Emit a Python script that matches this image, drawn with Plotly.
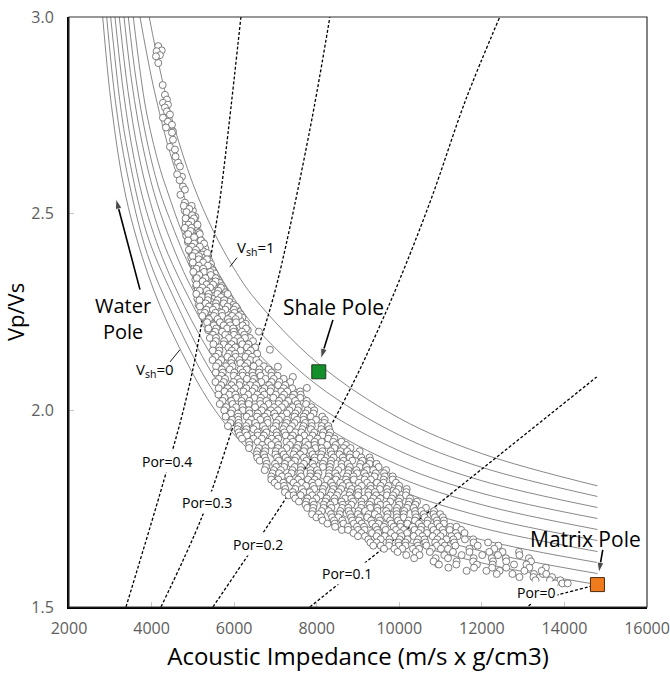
import plotly.graph_objects as go

# ---------------- axes ----------------
X_TICKS = [2000, 4000, 6000, 8000, 10000, 12000, 14000, 16000]
Y_TICKS = [1.5, 2.0, 2.5, 3.0]

# ---------------- Vsh template curves (Vsh = 0 ... 1), AI vs Vp/Vs ----------------
VSH_X = [
    [2816, 3030, 3380, 3930, 4500, 5500, 6500, 8000, 10000, 12000, 14800],
    [2913, 3130, 3400, 3900, 4500, 5500, 6500, 8000, 10000, 12000, 14800],
    [3010, 3230, 3400, 3880, 4500, 5500, 6500, 8000, 10000, 12000, 14800],
    [3114, 3330, 3580, 3870, 4430, 5500, 6500, 8000, 10000, 12000, 14800],
    [3218, 3430, 3680, 3970, 4400, 5500, 6500, 8000, 10000, 12000, 14800],
    [3332, 3530, 3780, 4060, 4380, 4920, 5500, 6500, 8000, 10000, 12000, 14800],
    [3436, 3630, 3880, 4160, 4380, 4920, 5500, 6500, 8000, 10000, 12000, 14800],
    [3557, 3730, 3880, 4160, 4370, 4880, 5500, 6500, 8000, 10000, 12000, 14800],
    [3719, 4000, 4300, 4500, 5000, 5500, 6000, 6500, 8000, 10000, 12000, 14800],
    [3944, 4200, 4500, 5000, 5500, 6000, 6500, 8000, 10000, 12000, 14800],
]
VSH_Y = [
    [3.000, 2.773, 2.542, 2.341, 2.197, 2.006, 1.885, 1.768, 1.673, 1.612, 1.557],
    [3.000, 2.781, 2.607, 2.396, 2.246, 2.048, 1.922, 1.801, 1.704, 1.642, 1.585],
    [3.000, 2.788, 2.672, 2.451, 2.295, 2.089, 1.959, 1.835, 1.735, 1.671, 1.613],
    [3.000, 2.800, 2.638, 2.509, 2.346, 2.132, 1.998, 1.869, 1.766, 1.701, 1.641],
    [3.000, 2.811, 2.654, 2.529, 2.397, 2.175, 2.036, 1.904, 1.797, 1.730, 1.669],
    [3.000, 2.827, 2.675, 2.553, 2.453, 2.321, 2.221, 2.076, 1.939, 1.829, 1.760, 1.697],
    [3.000, 2.837, 2.689, 2.570, 2.503, 2.367, 2.263, 2.114, 1.973, 1.860, 1.789, 1.725],
    [3.000, 2.856, 2.756, 2.631, 2.561, 2.419, 2.310, 2.155, 2.014, 1.897, 1.821, 1.753],
    [3.000, 2.845, 2.711, 2.636, 2.485, 2.372, 2.284, 2.213, 2.065, 1.937, 1.855, 1.781],
    [3.000, 2.867, 2.739, 2.576, 2.455, 2.360, 2.284, 2.122, 1.980, 1.890, 1.808],
]

# ---------------- constant-porosity lines ----------------
POR_LINES = {
    "0":   ([14800, 13840, 13330, 13110], [1.557, 1.531, 1.518, 1.500]),
    "0.1": ([7835, 14783], [1.500, 2.085]),
    "0.2": ([5486, 7326, 8222, 8924, 9457, 9977, 10764, 11611, 12434],
            [1.500, 1.788, 1.939, 2.078, 2.198, 2.324, 2.535, 2.790, 3.000]),
    "0.3": ([4227, 5220, 5970, 6624, 7060, 7835, 8319],
            [1.500, 1.729, 1.958, 2.172, 2.332, 2.714, 3.000]),
    "0.4": ([3380, 4373, 4833, 5172, 5462, 5656, 6164],
            [1.500, 1.849, 2.027, 2.197, 2.408, 2.536, 3.000]),
}
POR_LABELS = [("Por=0.4", 4373, 1.871), ("Por=0.3", 5341, 1.765),
              ("Por=0.2", 6576, 1.660), ("Por=0.1", 8730, 1.584),
              ("Por=0", 13330, 1.536)]

# ---------------- well-log samples ----------------
TRAIL_X = [4162, 4245, 4123, 4203, 4107, 4162, 4269, 4324, 4372, 4276, 4397, 4324,
           4372, 4445, 4276, 4397, 4494, 4348, 4518, 4494, 4518, 4445, 4566, 4639,
           4687, 4736, 4760, 4808, 4808, 4857, 4620, 4680, 4700, 4580]
TRAIL_Y = [2.926, 2.915, 2.913, 2.903, 2.900, 2.883, 2.827, 2.802, 2.790, 2.782, 2.777, 2.770,
           2.760, 2.752, 2.744, 2.734, 2.726, 2.719, 2.709, 2.706, 2.688, 2.670, 2.663, 2.630,
           2.620, 2.594, 2.569, 2.561, 2.528, 2.510, 2.600, 2.585, 2.548, 2.645]
STRAY_X = [6866, 7060, 7423, 7762, 6382, 6600, 10426, 10935, 13480]
STRAY_Y = [2.154, 2.111, 2.085, 2.057, 2.184, 2.200, 1.648, 1.609, 1.584]

# upper part of the cloud, between the main rows
UPPER_ROWS = [
    (2.516, [4860]), (2.508, [4800, 5000]), (2.500, [4900]), (2.492, [4850, 5060]),
    (2.484, [4890, 5040]), (2.476, [4830, 5000]), (2.468, [4930, 5100]),
    (2.460, [4860, 5060]), (2.452, [5000, 5150]), (2.444, [4840, 4990, 5140]),
    (2.436, [4940, 5100]), (2.428, [4880, 5080, 5230]), (2.420, [4960, 5130]),
    (2.412, [5010, 5180, 5300]), (2.404, [4930, 5110, 5260]),
    (2.396, [5070, 5220, 5360]), (2.388, [4960, 5090, 5280]),
    (2.380, [5060, 5210, 5400]), (2.372, [4990, 5150, 5300, 5440]),
    (2.364, [5040, 5200, 5420]), (2.356, [5100, 5350, 5480]),
    (2.348, [5040, 5200, 5380, 5530]), (2.340, [5150, 5280, 5480]),
    (2.332, [5060, 5210, 5400, 5610]), (2.324, [5150, 5290, 5460, 5650]),
    (2.316, [5080, 5270, 5510, 5700]), (2.308, [5120, 5260, 5460, 5740]),
    (2.300, [5200, 5480, 5700, 5790]), (2.292, [5150, 5300, 5530, 5760]),
    (2.284, [5110, 5290, 5520, 5890]), (2.276, [5200, 5430, 5660, 5880]),
    (2.268, [5140, 5280, 5470, 5720, 5980]), (2.260, [5250, 5470, 5650, 5920, 6070]),
    (2.252, [5200, 5400, 5610, 5880, 6100]), (2.244, [5330, 5460, 5830, 6160]),
    (2.236, [5260, 5450, 5690, 5900, 6200]), (2.228, [5420, 5580, 5700, 5960, 6150]),
    (2.220, [5310, 5440, 5680, 5920, 6280]), (2.212, [5430, 5650, 5880, 6120]),
    (2.204, [5370, 5610, 5760, 6010, 6330]),
]

CLOUD_ROWS = [
    (2.520, [4780, 4970]), (2.512, [4914]), (2.504, [4848]), (2.496, [4982]),
    (2.488, [4826, 5026]), (2.480, [4960]), (2.472, [4894, 5114]), (2.464, [4808, 4968]),
    (2.456, [4946]), (2.448, [4888, 5168]), (2.440, [5030]), (2.432, [4886, 5196]),
    (2.424, [5032, 5272]), (2.416, [4978, 5168]), (2.408, [4904, 5074]),
    (2.400, [5050, 5350]), (2.392, [4996, 5146]), (2.384, [5142, 5342]),
    (2.376, [4998, 5248]), (2.368, [5144, 5364]), (2.360, [5090, 5250]),
    (2.352, [5012, 5272, 5422]), (2.344, [5154, 5434]), (2.336, [5096, 5306, 5556]),
    (2.328, [5238, 5548]), (2.320, [5090, 5330, 5490]), (2.312, [5228, 5418, 5678]),
    (2.304, [5166, 5336, 5616]), (2.296, [5084, 5384, 5594, 5844]),
    (2.288, [5222, 5372, 5682]), (2.280, [5160, 5360, 5600, 5760]),
    (2.272, [5310, 5560, 5750]), (2.264, [5170, 5390, 5560, 5840, 6040]),
    (2.256, [5326, 5486, 5786, 5996]), (2.248, [5288, 5548, 5698, 6008]),
    (2.240, [5230, 5510, 5710, 5950, 6110]), (2.232, [5388, 5598, 5848, 6038]),
    (2.224, [5346, 5656, 5876, 6046]), (2.216, [5506, 5746, 5906, 6206]),
    (2.208, [5378, 5568, 5828, 5978, 6288]), (2.200, [5540, 5710, 5990, 6190]),
    (2.192, [5486, 5786, 5996, 6246]), (2.184, [5412, 5562, 5872, 6092, 6262]),
    (2.176, [5556, 5756, 5996, 6156, 6456]), (2.168, [5498, 5748, 5938, 6198, 6348]),
    (2.160, [5640, 5860, 6030, 6310, 6510]), (2.152, [5484, 5644, 5944, 6154, 6404]),
    (2.144, [5618, 5878, 6028, 6338, 6558]), (2.136, [5556, 5836, 6036, 6276, 6436]),
    (2.128, [5478, 5688, 5938, 6128, 6388, 6538]),
    (2.120, [5620, 5930, 6150, 6320, 6600]),
    (2.112, [5562, 5802, 5962, 6262, 6472, 6722]),
    (2.104, [5704, 5894, 6154, 6304, 6614, 6834]),
    (2.096, [5554, 5724, 6004, 6204, 6444, 6604, 6904]),
    (2.088, [5692, 5992, 6202, 6452, 6642, 6902, 7052]),
    (2.080, [5630, 5780, 6090, 6310, 6480, 6760, 6960, 7200]),
    (2.072, [5548, 5748, 5988, 6148, 6448, 6658, 6908, 7098, 7358]),
    (2.064, [5686, 5936, 6126, 6386, 6536, 6846, 7066, 7236]),
    (2.056, [5626, 5846, 6016, 6296, 6496, 6736, 6896, 7196, 7406]),
    (2.048, [5768, 5928, 6228, 6438, 6688, 6878, 7138, 7288, 7598]),
    (2.040, [5620, 5880, 6030, 6340, 6560, 6730, 7010, 7210, 7450, 7610]),
    (2.032, [5770, 6050, 6250, 6490, 6650, 6950, 7160, 7410, 7600]),
    (2.024, [5720, 5930, 6180, 6370, 6630, 6780, 7090, 7310, 7480, 7760]),
    (2.016, [5652, 5962, 6182, 6352, 6632, 6832, 7072, 7232, 7532, 7742]),
    (2.008, [5806, 6046, 6206, 6506, 6716, 6966, 7156, 7416, 7566, 7876]),
    (2.000, [5760, 5950, 6210, 6360, 6670, 6890, 7060, 7340, 7540, 7780, 7940]),
    (1.992, [5922, 6092, 6372, 6572, 6812, 6972, 7272, 7482, 7732, 7922]),
    (1.984, [5794, 6094, 6304, 6554, 6744, 7004, 7154, 7464, 7684, 7854, 8134]),
    (1.976, [5954, 6104, 6414, 6634, 6804, 7084, 7284, 7524, 7684, 7984, 8194]),
    (1.968, [5912, 6112, 6352, 6512, 6812, 7022, 7272, 7462, 7722, 7872, 8182]),
    (1.960, [5850, 6100, 6290, 6550, 6700, 7010, 7230, 7400, 7680, 7880, 8120, 8280]),
    (1.952, [6080, 6300, 6470, 6750, 6950, 7190, 7350, 7650, 7860, 8110, 8300]),
    (1.944, [6110, 6270, 6570, 6780, 7030, 7220, 7480, 7630, 7940, 8160, 8330]),
    (1.936, [6140, 6310, 6570, 6720, 7030, 7250, 7420, 7700, 7900, 8140, 8300]),
    (1.928, [6190, 6470, 6670, 6910, 7070, 7370, 7580, 7830, 8020, 8280, 8430]),
    (1.920, [6360, 6570, 6820, 7010, 7270, 7420, 7730, 7950, 8120, 8400, 8600]),
    (1.912, [6370, 6680, 6900, 7070, 7350, 7550, 7790, 7950, 8250, 8460, 8710]),
    (1.904, [6360, 6600, 6760, 7060, 7270, 7520, 7710, 7970, 8120, 8430, 8650, 8820]),
    (1.896, [6560, 6750, 7010, 7160, 7470, 7690, 7860, 8140, 8340, 8580, 8740, 9040]),
    (1.888, [6550, 6720, 7000, 7200, 7440, 7600, 7900, 8110, 8360, 8550, 8810, 8960]),
    (1.880, [6560, 6740, 7040, 7250, 7500, 7690, 7950, 8100, 8410, 8630, 8800, 9080, 9280]),
    (1.872, [6620, 6770, 7080, 7300, 7470, 7750, 7950, 8190, 8350, 8650, 8860, 9110, 9300]),
    (1.864, [6790, 6990, 7230, 7390, 7690, 7900, 8150, 8340, 8600, 8750, 9060, 9280, 9450]),
    (1.856, [6770, 7020, 7210, 7470, 7620, 7930, 8150, 8320, 8600, 8800, 9040, 9200, 9500]),
    (1.848, [6740, 6960, 7130, 7410, 7610, 7850, 8010, 8310, 8520, 8770, 8960, 9220, 9370, 9680]),
    (1.840, [6930, 7090, 7390, 7600, 7850, 8040, 8300, 8450, 8760, 8980, 9150, 9430, 9630]),
    (1.832, [6900, 7160, 7310, 7620, 7840, 8010, 8290, 8490, 8730, 8890, 9190, 9400, 9650, 9840]),
    (1.824, [6900, 7070, 7350, 7550, 7790, 7950, 8250, 8460, 8710, 8900, 9160, 9310, 9620, 9840]),
    (1.816, [6980, 7190, 7440, 7630, 7890, 8040, 8350, 8570, 8740, 9020, 9220, 9460, 9620, 9920]),
    (1.808, [7060, 7210, 7520, 7740, 7910, 8190, 8390, 8630, 8790, 9090, 9300, 9550, 9740, 10000]),
    (1.800, [7240, 7480, 7640, 7940, 8150, 8400, 8590, 8850, 9000, 9310, 9530, 9700, 9980, 10180]),
    (1.792, [7230, 7420, 7680, 7830, 8140, 8360, 8530, 8810, 9010, 9250, 9410, 9710, 9920, 10170]),
    (1.784, [7320, 7440, 7610, 7890, 8090, 8330, 8490, 8790, 9000, 9250, 9440, 9700, 9850, 10160]),
    (1.776, [7480, 7780, 7990, 8240, 8430, 8690, 8840, 9150, 9370, 9540, 9820, 10020, 10260]),
    (1.768, [7570, 7750, 7900, 8210, 8430, 8600, 8880, 9080, 9320, 9480, 9780, 9990, 10240, 10430]),
    (1.760, [7730, 7930, 8170, 8330, 8630, 8840, 9090, 9280, 9540, 9690, 10000, 10220, 10390]),
    (1.752, [7770, 7916, 8166, 8356, 8616, 8766, 9076, 9296, 9466, 9746, 9946, 10186, 10346, 10646]),
    (1.744, [7902, 8122, 8292, 8572, 8772, 9012, 9172, 9472, 9682, 9932, 10122, 10382, 10532, 10842]),
    (1.736, [7888, 8048, 8348, 8558, 8808, 8998, 9258, 9408, 9718, 9938, 10108, 10388, 10588, 10828, 10988]),
    (1.728, [7990, 8114, 8374, 8524, 8834, 9054, 9224, 9504, 9704, 9944, 10104, 10404, 10614, 10864, 11054]),
    (1.720, [8140, 8420, 8620, 8860, 9020, 9320, 9530, 9780, 9970, 10230, 10380, 10690, 10910, 11080]),
    (1.712, [8260, 8438, 8648, 8898, 9088, 9348, 9498, 9808, 10028, 10198, 10478, 10678, 10918, 11078]),
    (1.704, [8446, 8756, 8976, 9146, 9426, 9626, 9866, 10026, 10326, 10536, 10786, 10976, 11236, 11386]),
    (1.696, [8610, 8760, 9000, 9160, 9460, 9670, 9920, 10110, 10370, 10520, 10830, 11050, 11220, 11500]),
    (1.688, [8890, 9080, 9340, 9490, 9800, 10020, 10190, 10470, 10670, 10910, 11070, 11370, 11580]),
    (1.680, [9000, 9170, 9450, 9650, 9890, 10050, 10350, 10560, 10810, 11000, 11260, 11410]),
    (1.672, [9250, 9550, 9760, 10010, 10200, 10460, 10610, 10920, 11140, 11310, 11590, 11790]),
    (1.664, [9300, 9450, 9760, 9980, 10150, 10430, 10630, 10870, 11030, 11330, 11800, 12150]),
    (1.656, [9370, 9550, 9750, 9990, 10150, 10450, 10660, 10910, 11100, 11360, 11900, 12400]),
    (1.648, [9630, 9880, 10070, 10330, 10480, 10790, 11010, 11180, 11700, 12300]),
    (1.640, [9960, 10400, 10740, 11300, 11700, 12180, 12500, 12900]),
    (1.632, [10170, 10490, 11090, 11510, 12010, 12390, 12910]),
    (1.624, [10360, 10880, 11180, 11800, 12240, 12580, 13140]),
    (1.616, [10830, 11390, 11790, 12270, 12590, 13190]),
    (1.608, [10960, 11380, 11880, 12260, 12780, 13080]),
    (1.600, [11190, 11810, 12250, 12590, 13150, 13550]),
    (1.592, [11630, 12110, 12430, 13030, 13450]),
    (1.584, [12360, 12740, 13260, 13560]),
    (1.576, [12910, 13250, 13700]),
    (1.568, [13300, 13650, 13900]),
    (1.560, [13770, 13950, 14080]),
]

# ---------------- poles, arrows, leader lines ----------------
SHALE_POLE = (8050, 2.098)
MATRIX_POLE = (14800, 1.557)
ARROWS = [  # (tail x, tail y, head x, head y)
    (3719, 2.307, 3138, 2.538),
    (8392, 2.230, 8101, 2.131),
    (14928, 1.645, 14831, 1.587),
]
LEADERS = [
    (6068, 2.388, 5898, 2.365),
    (4445, 2.123, 4687, 2.154),
]

FONT = "Open Sans"

fig = go.Figure()

for xs, ys in zip(VSH_X, VSH_Y):
    fig.add_trace(go.Scatter(x=xs, y=ys, mode="lines", line_shape="spline",
                             line=dict(color="#7a7a7a", width=0.9),
                             hoverinfo="skip", showlegend=False))

for key, (xs, ys) in POR_LINES.items():
    fig.add_trace(go.Scatter(x=xs, y=ys, mode="lines", line_shape="spline",
                             line=dict(color="black", width=1.3, dash="3px,2px"),
                             hoverinfo="skip", showlegend=False))

cloud_x = list(TRAIL_X) + list(STRAY_X)
cloud_y = list(TRAIL_Y) + list(STRAY_Y)
for yv, xs in UPPER_ROWS + CLOUD_ROWS:
    cloud_x.extend(xs)
    cloud_y.extend([yv] * len(xs))

fig.add_trace(go.Scatter(x=cloud_x, y=cloud_y, mode="markers",
                         marker=dict(symbol="circle", size=7, color="white",
                                     line=dict(color="#6e6e6e", width=0.9)),
                         hoverinfo="skip", showlegend=False))

fig.add_trace(go.Scatter(x=[SHALE_POLE[0]], y=[SHALE_POLE[1]], mode="markers",
                         marker=dict(symbol="square", size=14, color="#13902b",
                                     line=dict(color="#1f3b1f", width=1)),
                         showlegend=False))
fig.add_trace(go.Scatter(x=[MATRIX_POLE[0]], y=[MATRIX_POLE[1]], mode="markers",
                         marker=dict(symbol="square", size=14, color="#f07b1c",
                                     line=dict(color="#4a2a10", width=1)),
                         showlegend=False))

for tx, ty, hx, hy in ARROWS:
    fig.add_trace(go.Scatter(x=[tx, hx], y=[ty, hy], mode="lines+markers",
                             line=dict(color="black", width=1.6),
                             marker=dict(symbol="arrow", size=[0, 11], color="black",
                                         angleref="previous"),
                             hoverinfo="skip", showlegend=False))
for x0, y0, x1, y1 in LEADERS:
    fig.add_trace(go.Scatter(x=[x0, x1], y=[y0, y1], mode="lines",
                             line=dict(color="black", width=0.9),
                             hoverinfo="skip", showlegend=False))

ann = []
for text, xv, yv in POR_LABELS:
    ann.append(dict(x=xv, y=yv, text=text, showarrow=False, bgcolor="white",
                    borderpad=1, font=dict(family=FONT, size=14, color="black")))

ann += [
    dict(x=3300, y=2.233, text="Water<br>Pole", showarrow=False,
         font=dict(family=FONT, size=20, color="black")),
    dict(x=8416, y=2.263, text="Shale Pole", showarrow=False,
         font=dict(family=FONT, size=21, color="black")),
    dict(x=14517, y=1.673, text="Matrix Pole", showarrow=False,
         font=dict(family=FONT, size=21, color="black")),
    dict(x=6527, y=2.413, text="V<sub>sh</sub>=1", showarrow=False,
         font=dict(family=FONT, size=15, color="black")),
    dict(x=4082, y=2.103, text="V<sub>sh</sub>=0", showarrow=False,
         font=dict(family=FONT, size=15, color="black")),
]

fig.update_layout(
    width=670, height=674,
    margin=dict(l=69, r=23, t=17, b=67),
    paper_bgcolor="white", plot_bgcolor="white",
    font=dict(family=FONT),
    annotations=ann,
    shapes=[dict(type="rect", xref="paper", yref="paper", x0=0, y0=0, x1=1, y1=1,
                 line=dict(color="#333", width=1.2))],
)
fig.update_xaxes(range=[2000, 16000], tickvals=X_TICKS, automargin=False,
                 ticktext=[str(v) for v in X_TICKS], ticks="inside",
                 ticklen=5, tickcolor="#c8c8c8", showline=True, linecolor="black",
                 linewidth=2, showgrid=False, zeroline=False, ticklabelstandoff=6,
                 tickfont=dict(size=16, color="#5e5e5e"),
                 title=dict(text="Acoustic Impedance (m/s x g/cm3)",
                            font=dict(size=24, color="black"), standoff=10))
fig.update_yaxes(range=[1.5, 3.0], tickvals=Y_TICKS, automargin=False,
                 ticktext=["%.1f" % v for v in Y_TICKS],
                 ticks="inside", ticklen=5, tickcolor="#c8c8c8", showline=True,
                 linecolor="black", linewidth=2, showgrid=False, zeroline=False,
                 ticklabelstandoff=10,
                 tickfont=dict(size=16, color="#5e5e5e"),
                 title=dict(text="Vp/Vs", font=dict(size=22, color="black"), standoff=4))

fig.write_html("out.html")
